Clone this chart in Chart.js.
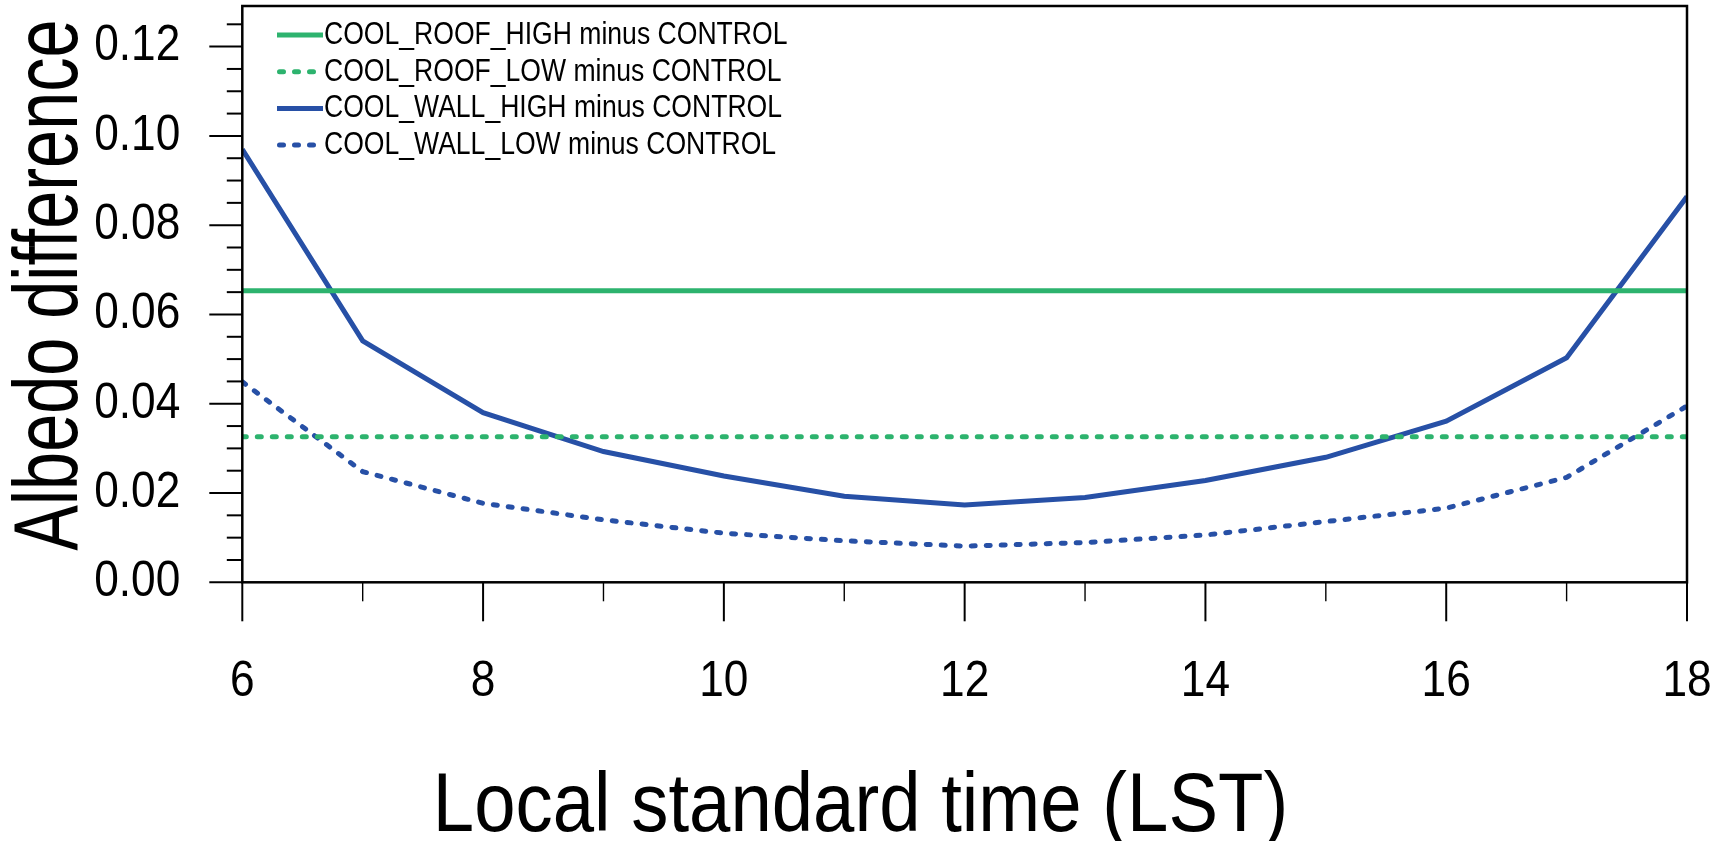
<!DOCTYPE html>
<html>
<head>
<meta charset="utf-8">
<script src="https://cdn.jsdelivr.net/npm/chart.js@4.4.1/dist/chart.umd.min.js"></script>
<style>
  html, body { margin: 0; padding: 0; background: #ffffff; }
  #wrap { width: 1723px; height: 841px; }
</style>
</head>
<body>
<div id="wrap"><canvas id="c" width="1723" height="841"></canvas></div>
<script>
// ---- data ----
const hours = [6, 7, 8, 9, 10, 11, 12, 13, 14, 15, 16, 17, 18];
const roofHigh = [0.0653, 0.0653, 0.0653, 0.0653, 0.0653, 0.0653, 0.0653, 0.0653, 0.0653, 0.0653, 0.0653, 0.0653, 0.0653];
const roofLow  = [0.0326, 0.0326, 0.0326, 0.0326, 0.0326, 0.0326, 0.0326, 0.0326, 0.0326, 0.0326, 0.0326, 0.0326, 0.0326];
const wallHigh = [0.0970, 0.0541, 0.0380, 0.0293, 0.0238, 0.0193, 0.0173, 0.0190, 0.0228, 0.0280, 0.0361, 0.0503, 0.0864];
const wallLow  = [0.0449, 0.0248, 0.0177, 0.0140, 0.0110, 0.0093, 0.0081, 0.0089, 0.0106, 0.0136, 0.0166, 0.0235, 0.0395];
const seriesLabels = [
  'COOL_ROOF_HIGH minus CONTROL',
  'COOL_ROOF_LOW minus CONTROL',
  'COOL_WALL_HIGH minus CONTROL',
  'COOL_WALL_LOW minus CONTROL'
];
const xTickLabels = ['6', '8', '10', '12', '14', '16', '18'];
const yTickLabels = ['0.00', '0.02', '0.04', '0.06', '0.08', '0.10', '0.12'];
const xTitle = 'Local standard time (LST)';
const yTitle = 'Albedo difference';

// ---- styling ----
const FONT = '"Liberation Sans", Arial, sans-serif';
const GREEN = '#2DB36E';
const BLUE = '#2750A6';
const LW = 5;
const DOT = [4, 11];

const canvas = document.getElementById('c');
const ctx2d = canvas.getContext('2d');
// narrow (condensed) rendering of the Helvetica-like text, still drawn as real text
const origFillText = ctx2d.fillText;
ctx2d.fillText = function (text, x, y, maxWidth) {
  const m = /(\d+(?:\.\d+)?)px/.exec(this.font);
  const size = m ? parseFloat(m[1]) : 12;
  let sx = size >= 40 ? 0.885 : 0.83;
  let dx = 0;
  if (text === yTitle) { sx = 0.76; dx = 9; }
  if (text === xTitle) { dx = 17; }
  this.save();
  this.translate(x, y);
  this.translate(dx, 0);
  this.scale(sx, 1);
  if (maxWidth !== undefined) origFillText.call(this, text, 0, 0, maxWidth / sx);
  else origFillText.call(this, text, 0, 0);
  this.restore();
};

const toPts = arr => arr.map((v, i) => ({ x: hours[i], y: v }));

const framePlugin = {
  id: 'frameTicks',
  afterDatasetsDraw(chart) {
    const { ctx, chartArea: a, scales } = chart;
    const xs = scales.x, ys = scales.y;
    ctx.save();
    ctx.strokeStyle = '#000';
    ctx.lineCap = 'butt';
    ctx.lineWidth = 2.5;
    ctx.strokeRect(a.left, a.top, a.right - a.left, a.bottom - a.top);
    const yMajors = yTickLabels.map(Number);
    ctx.lineWidth = 2;
    for (let i = 0; i < yMajors.length; i++) {
      const p = ys.getPixelForValue(yMajors[i]);
      ctx.beginPath(); ctx.moveTo(a.left - 33, p); ctx.lineTo(a.left, p); ctx.stroke();
      for (let k = 1; k < 4; k++) {
        const v = yMajors[i] + k * 0.005;
        if (v > ys.max) break;
        const q = ys.getPixelForValue(v);
        ctx.beginPath(); ctx.moveTo(a.left - 15.5, q); ctx.lineTo(a.left, q); ctx.stroke();
      }
    }
    const xMajors = xTickLabels.map(Number);
    for (let i = 0; i < xMajors.length; i++) {
      const p = xs.getPixelForValue(xMajors[i]);
      ctx.lineWidth = 2;
      ctx.beginPath(); ctx.moveTo(p, a.bottom); ctx.lineTo(p, a.bottom + 39); ctx.stroke();
      if (i < xMajors.length - 1) {
        const q = xs.getPixelForValue((xMajors[i] + xMajors[i + 1]) / 2);
        ctx.lineWidth = 1.4;
        ctx.beginPath(); ctx.moveTo(q, a.bottom); ctx.lineTo(q, a.bottom + 19); ctx.stroke();
      }
    }
    ctx.restore();
  }
};

const legendPlugin = {
  id: 'insideLegend',
  afterDraw(chart) {
    const { ctx } = chart;
    ctx.save();
    chart.data.datasets.forEach((ds, i) => {
      const y = 35 + i * 36.7;
      ctx.strokeStyle = ds.borderColor;
      ctx.lineWidth = LW;
      const dashed = ds.borderDash && ds.borderDash.length;
      ctx.lineCap = dashed ? 'round' : 'butt';
      ctx.setLineDash(dashed ? ds.borderDash : []);
      ctx.beginPath();
      ctx.moveTo(dashed ? 279.5 : 277, y);
      ctx.lineTo(323, y);
      ctx.stroke();
      ctx.setLineDash([]);
      ctx.fillStyle = '#000';
      ctx.font = '32px ' + FONT;
      ctx.textAlign = 'left';
      ctx.textBaseline = 'middle';
      ctx.fillText(ds.label, 324, y);
    });
    ctx.restore();
  }
};

Chart.defaults.font.family = FONT;
Chart.defaults.color = '#000';

const TITLE_LH = 0.8;
const X_TITLE_SIZE = 84;

new Chart(canvas, {
  type: 'line',
  data: {
    datasets: [
      { label: seriesLabels[0], data: toPts(roofHigh), borderColor: GREEN, borderWidth: LW, pointRadius: 0, fill: false },
      { label: seriesLabels[1], data: toPts(roofLow), borderColor: GREEN, borderWidth: LW, borderDash: DOT, borderCapStyle: 'round', pointRadius: 0, fill: false },
      { label: seriesLabels[2], data: toPts(wallHigh), borderColor: BLUE, borderWidth: LW, pointRadius: 0, fill: false },
      { label: seriesLabels[3], data: toPts(wallLow), borderColor: BLUE, borderWidth: LW, borderDash: DOT, borderCapStyle: 'round', pointRadius: 0, fill: false }
    ]
  },
  options: {
    responsive: false,
    animation: false,
    devicePixelRatio: 1,
    layout: { padding: { left: 0, right: 36, top: 6, bottom: 0 } },
    plugins: {
      legend: { display: false },
      tooltip: { enabled: false },
      title: {
        display: true,
        text: xTitle,
        position: 'bottom',
        align: 'center',
        color: '#000',
        font: { size: X_TITLE_SIZE, weight: 'normal', lineHeight: TITLE_LH, family: FONT },
        padding: 0
      }
    },
    scales: {
      x: {
        type: 'linear',
        min: 6,
        max: 18,
        grid: { display: false, drawTicks: false },
        border: { display: false },
        afterBuildTicks: s => { s.ticks = xTickLabels.map(t => ({ value: Number(t) })); },
        ticks: {
          autoSkip: false,
          maxRotation: 0,
          padding: 70,
          font: { size: 50 },
          callback: (v) => { const i = xTickLabels.indexOf(String(v)); return i >= 0 ? xTickLabels[i] : ''; }
        },
        afterFit: s => { s.height = 841 - X_TITLE_SIZE * TITLE_LH - 582.3; s.paddingLeft = 0; s.paddingRight = 0; }
      },
      y: {
        type: 'linear',
        min: 0,
        max: 0.1291,
        grid: { display: false, drawTicks: false },
        border: { display: false },
        afterBuildTicks: s => { s.ticks = yTickLabels.map(t => ({ value: Number(t) })); },
        ticks: {
          padding: 62,
          font: { size: 50 },
          callback: (v) => { const i = yTickLabels.findIndex(t => Math.abs(Number(t) - v) < 1e-9); return i >= 0 ? yTickLabels[i] : ''; }
        },
        title: {
          display: true,
          text: yTitle,
          color: '#000',
          font: { size: 90, lineHeight: 1.17, family: FONT },
          padding: 0
        },
        afterFit: s => { s.width = 242.3; s.paddingTop = 0; s.paddingBottom = 0; }
      }
    }
  },
  plugins: [framePlugin, legendPlugin]
});
</script>
</body>
</html>
